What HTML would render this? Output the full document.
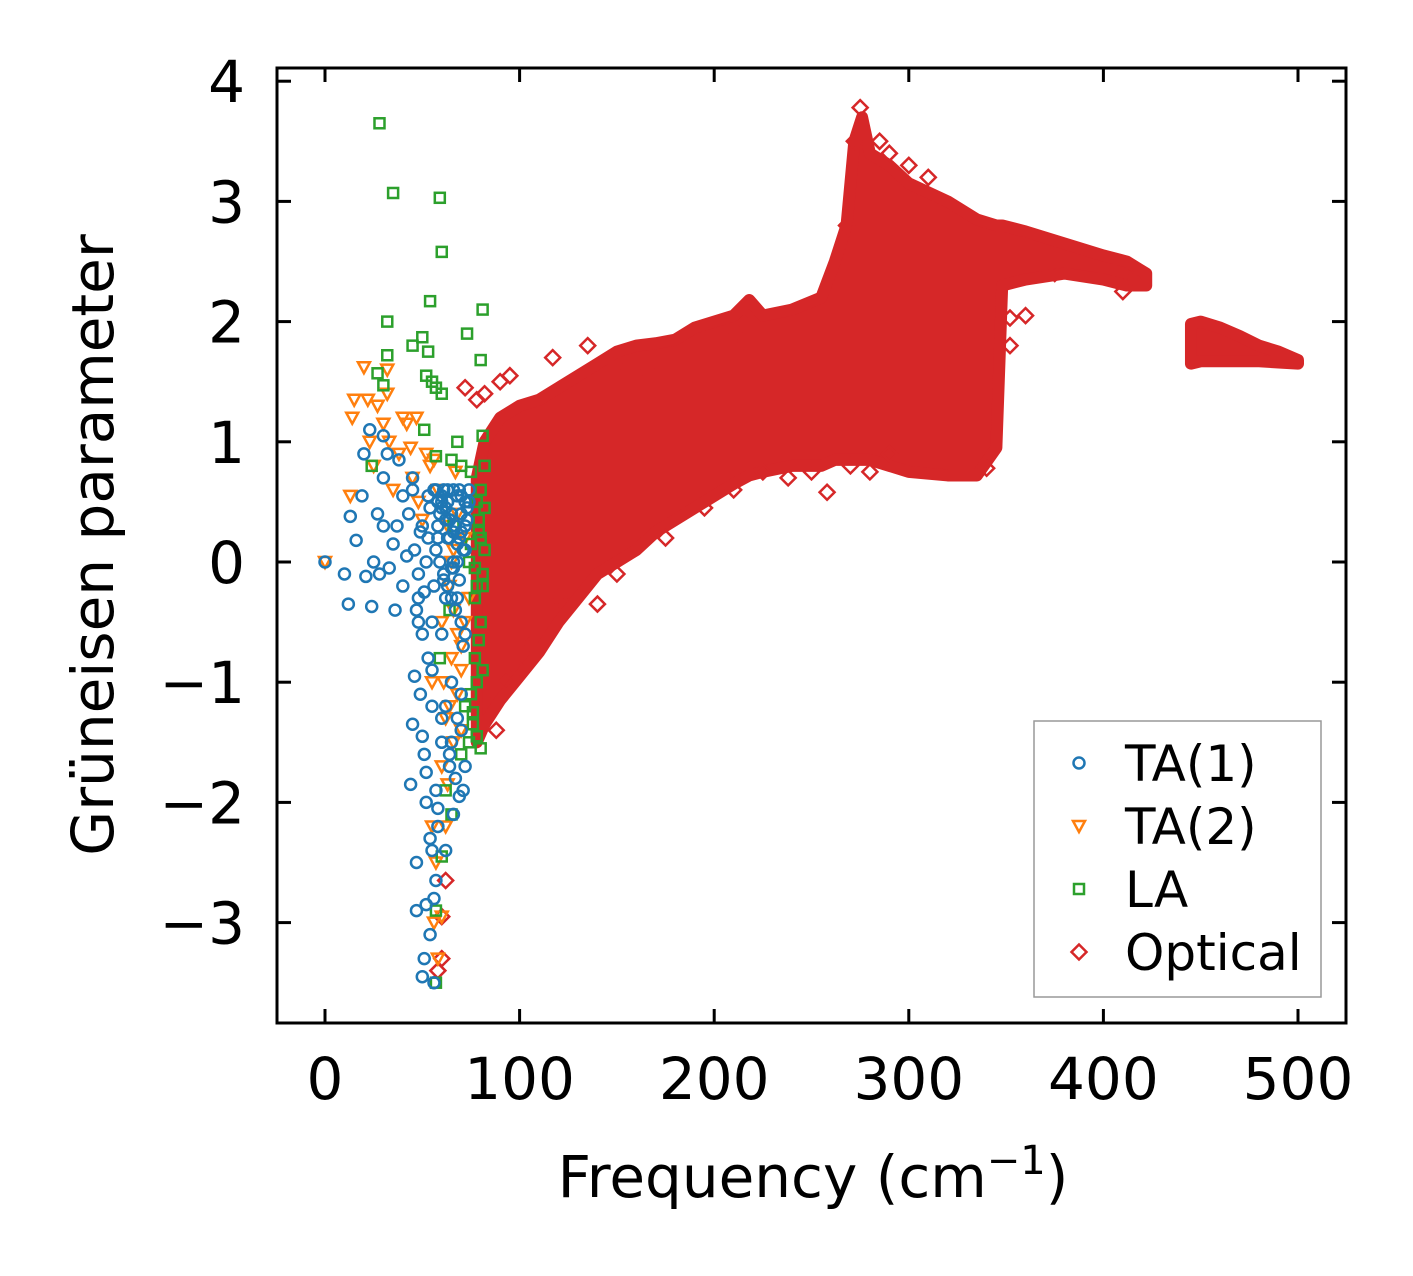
<!DOCTYPE html>
<html><head><meta charset="utf-8"><style>
html,body{margin:0;padding:0;background:#fff;}
svg text{font-family:"DejaVu Sans","Liberation Sans",sans-serif;fill:#000;}
</style></head><body>
<svg id="chart" width="1413" height="1271" viewBox="0 0 1413 1271" xmlns="http://www.w3.org/2000/svg">
<rect x="0" y="0" width="1413" height="1271" fill="#fff"/>
<defs><clipPath id="clip"><rect x="277" y="68" width="1069" height="955"/></clipPath></defs>
<g id="plot" clip-path="url(#clip)"></g>
<rect x="277" y="68" width="1069" height="955" fill="none" stroke="#000" stroke-width="3"/>
<g id="axes"></g>
<text x="813" y="1197" font-size="58" text-anchor="middle">Frequency (cm<tspan font-size="40" dy="-23">−1</tspan><tspan dy="23">)</tspan></text>
<text transform="translate(113,545) rotate(-90)" font-size="58" text-anchor="middle">Grüneisen parameter</text>
<g>
<rect x="1034" y="721" width="287" height="276" fill="#fff" stroke="#999" stroke-width="1.5"/>
<g id="legend-items"></g>
</g>
</svg>
<script>
const xTicks=[0,100,200,300,400,500];
const yTicks=[-3,-2,-1,0,1,2,3,4];
const seriesNames=["TA(1)","TA(2)","LA","Optical"];
const seriesColors=["#1f77b4","#ff7f0e","#2ca02c","#d62728"];
const bandFreq=[78,82,90,100,110,120,130,140,150,160,170,180,190,200,210,218,225,240,255,262,268,272,276,280,290,300,320,335,345,348,360,380,400,412,422];
const bandLow=[-1.5,-1.35,-1.15,-0.95,-0.75,-0.5,-0.3,-0.1,0.0,0.1,0.25,0.35,0.45,0.55,0.65,0.72,0.75,0.8,0.8,0.85,0.85,0.85,0.85,0.85,0.8,0.75,0.72,0.72,0.95,2.3,2.35,2.4,2.35,2.3,2.3];
const bandHigh=[0.7,1.0,1.2,1.3,1.35,1.45,1.55,1.65,1.75,1.8,1.82,1.85,1.95,2.0,2.05,2.18,2.05,2.1,2.2,2.5,2.8,3.5,3.7,3.4,3.3,3.15,3.0,2.85,2.8,2.8,2.75,2.65,2.55,2.5,2.4];
const band2Freq=[445,450,460,470,480,490,500];
const band2Low=[1.65,1.67,1.67,1.67,1.67,1.66,1.65];
const band2High=[1.98,2.0,1.95,1.88,1.8,1.75,1.68];
const ta1F=[0,10,12,13,16,19,20,21,23,24,25,27,28,30,30,30,32,33,35,36,37,38,40,40,42,43,44,45,45,46,47,47,48,48,49,50,50,51,51,52,52,53,53,54,54,55,55,56,56,57,57,58,58,60,60,62,62,63,64,65,66,67,68,69,70,70,72,72,74,46,48,50,52,54,56,58,60,62,64,66,68,70,72,47,49,51,53,55,57,59,61,63,65,67,69,71,50,55,60,65,70,52,58,64,68,45,57,63,66,71,73,60,62,64,66,68,70,72,74,61,63,65,67,69,71,73,59,61,63,65,67,69,56,58,60,62,64,66,68,70,72];
const ta1G=[0,-0.1,-0.35,0.38,0.18,0.55,0.9,-0.12,1.1,-0.37,0,0.4,-0.1,1.05,0.7,0.3,0.9,-0.05,0.15,-0.4,0.3,0.85,0.55,-0.2,0.05,0.4,-1.85,0.6,-1.35,-0.95,-2.9,-2.5,-0.5,-0.3,-1.1,-1.45,-3.45,-1.6,-3.3,-2.85,-1.75,0.2,-0.8,-3.1,-2.3,-2.4,-1.2,-2.8,-3.5,-2.65,-1.9,-2.05,0.3,-1.5,-0.6,-2.4,-1.2,0.5,-1.6,-1.0,0.6,-1.8,-0.3,-1.95,0.55,-1.4,-1.7,0.1,0.6,0.1,-0.1,0.3,0.0,0.45,-0.2,0.2,0.5,-0.3,0.35,0.0,0.55,0.25,0.5,-0.4,0.25,-0.25,0.55,-0.5,0.1,0.4,-0.15,0.6,-0.05,0.3,0.6,-0.7,-0.6,-0.9,-1.3,-1.5,-1.1,-2.0,-2.2,-1.7,-1.3,0.7,0.6,0.2,-2.1,-1.9,0.45,0.55,0.45,0.35,0.25,0.15,0.4,0.3,0.5,0.6,0.5,0.4,0.3,0.2,0.1,0.35,0.0,-0.1,-0.2,-0.3,-0.4,-0.15,0.6,0.5,0.45,0.35,0.2,-0.05,0.0,-0.5,-0.6];
const ta2F=[0,13,14,15,20,22,23,25,27,30,32,32,33,35,38,40,42,44,45,47,48,50,52,54,55,55,56,57,58,60,60,62,63,65,66,67,68,70,72,74,60,62,63,65,56,58,64,68,70,61,66,70,72,64,66,68];
const ta2G=[0,0.55,1.2,1.35,1.62,1.35,1.0,0.8,1.3,1.15,1.6,1.4,1.0,0.6,0.9,1.2,1.15,0.95,0.7,1.2,0.5,0.35,0.9,0.8,-1.0,-2.2,-3.0,-2.5,-3.3,-1.7,-0.5,-1.3,0.3,-0.8,-0.4,0.75,-1.1,-0.7,0.2,-0.3,-2.95,-2.2,-1.85,0.0,0.85,0.6,-0.2,0.4,-1.4,-1.0,0.1,-0.9,-0.5,-1.2,-1.5,-0.6];
const laF=[28,35,59,60,54,32,81,73,50,53,32,80,45,27,30,52,57,60,55,51,68,81,24,57,65,70,75,78,80,82,78,80,77,75,74,72,65,60,57,57,62,70,76,59,64,66,74,78,80,82,79,81,77,79,81,76,78,80,82,75,77,79,81];
const laG=[3.65,3.07,3.03,2.58,2.17,2.0,2.1,1.9,1.87,1.75,1.72,1.68,1.8,1.57,1.47,1.55,1.45,1.4,1.5,1.1,1.0,1.05,0.8,0.88,0.85,0.8,0.75,0.5,0.2,0.1,-0.2,-0.5,-0.8,-1.1,-1.5,-1.2,-2.1,-2.45,-3.5,-2.9,-1.9,-1.6,-1.35,-0.8,-0.4,0.3,0.0,-1.0,0.6,0.8,0.35,-0.1,-0.3,-0.65,-0.9,-1.25,-1.45,-1.55,0.45,0.15,-0.05,0.25,-0.2];
const optF=[72,78,82,90,95,60,60,62,58,117,135,150,165,212,218,258,238,290,340,352,352,360,375,410,415,285,275,272,290,300,310,268,265,100,105,93,120,140,150,175,195,210,225,85,88,250,270,280];
const optG=[1.45,1.35,1.4,1.5,1.55,-2.95,-3.3,-2.65,-3.4,1.7,1.8,1.65,1.6,1.9,2.1,0.58,0.7,0.9,0.78,1.8,2.03,2.05,2.4,2.25,2.35,3.5,3.78,3.5,3.4,3.3,3.2,2.8,2.55,-0.9,-0.7,-1.0,-0.3,-0.35,-0.1,0.2,0.45,0.6,0.75,-1.2,-1.4,0.75,0.8,0.75];

const X=f=>325+(f)*(1298-325)/500;
const Y=g=>562-g*120.2;
const NS="http://www.w3.org/2000/svg";
const plot=document.getElementById('plot'),axes=document.getElementById('axes');
function mk(tag,attrs,parent){const e=document.createElementNS(NS,tag);for(const k in attrs)e.setAttribute(k,attrs[k]);parent.appendChild(e);return e;}

xTicks.forEach(t=>{
  const x=X(t);
  const a=mk('line',{x1:x,x2:x,y1:1023,y2:1009,stroke:'#000','stroke-width':3},axes);
  
  
  const b=mk('line',{x1:x,x2:x,y1:68,y2:82,stroke:'#000','stroke-width':3},axes);
  
  
  const l=mk('text',{x:x,y:1099,'font-size':58,'text-anchor':'middle'},axes);
  l.textContent=String(t);
  
  
});
yTicks.forEach(t=>{
  const y=Y(t);
  const a=mk('line',{x1:277,x2:291,y1:y,y2:y,stroke:'#000','stroke-width':3},axes);
  
  
  const b=mk('line',{x1:1332,x2:1346,y1:y,y2:y,stroke:'#000','stroke-width':3},axes);
  
  
  const l=mk('text',{x:245,y:y+21,'font-size':58,'text-anchor':'end'},axes);
  l.textContent=t<0?'−'+Math.abs(t):String(t);
  
  
});

function band(F,L,H,name){
  let pts=F.map((f,i)=>X(f)+','+Y(H[i]));
  for(let i=F.length-1;i>=0;i--)pts.push(X(F[i])+','+Y(L[i]));
  const p=mk('polygon',{points:pts.join(' '),fill:'#d62728',stroke:'#d62728','stroke-width':12,'stroke-linejoin':'round'},plot);
  
  
}
band(bandFreq,bandLow,bandHigh,'optical-dense-band');
band(band2Freq,band2Low,band2High,'optical-high-band');

function marker(kind,x,y,c){
  let e;
  if(kind===0)e=mk('circle',{cx:x,cy:y,r:5.5,fill:'none',stroke:c,'stroke-width':2.5},plot);
  else if(kind===1)e=mk('polygon',{points:`${x-6},${y-5} ${x+6},${y-5} ${x},${y+6}`,fill:'none',stroke:c,'stroke-width':2.5},plot);
  else if(kind===2)e=mk('rect',{x:x-5,y:y-5,width:10,height:10,fill:'none',stroke:c,'stroke-width':2.5},plot);
  else e=mk('polygon',{points:`${x},${y-7.5} ${x+7.5},${y} ${x},${y+7.5} ${x-7.5},${y}`,fill:'none',stroke:c,'stroke-width':2.5},plot);
  return e;
}
const sets=[[optF,optG,3],[ta2F,ta2G,1],[laF,laG,2],[ta1F,ta1G,0]];
sets.forEach(([F,G,k])=>{
  F.forEach((f,i)=>{
    const m=marker(k,X(f),Y(G[i]),seriesColors[k]);
    
    
  });
});

const li=document.getElementById('legend-items');
seriesNames.forEach((n,i)=>{
  const y=763+i*63;
  const m=marker(i,1079,y,seriesColors[i]);
  li.appendChild(m);
  
  
  const t=mk('text',{x:1125,y:y+18,'font-size':50},li);
  t.textContent=n;
  
  
});
</script>
</body></html>
